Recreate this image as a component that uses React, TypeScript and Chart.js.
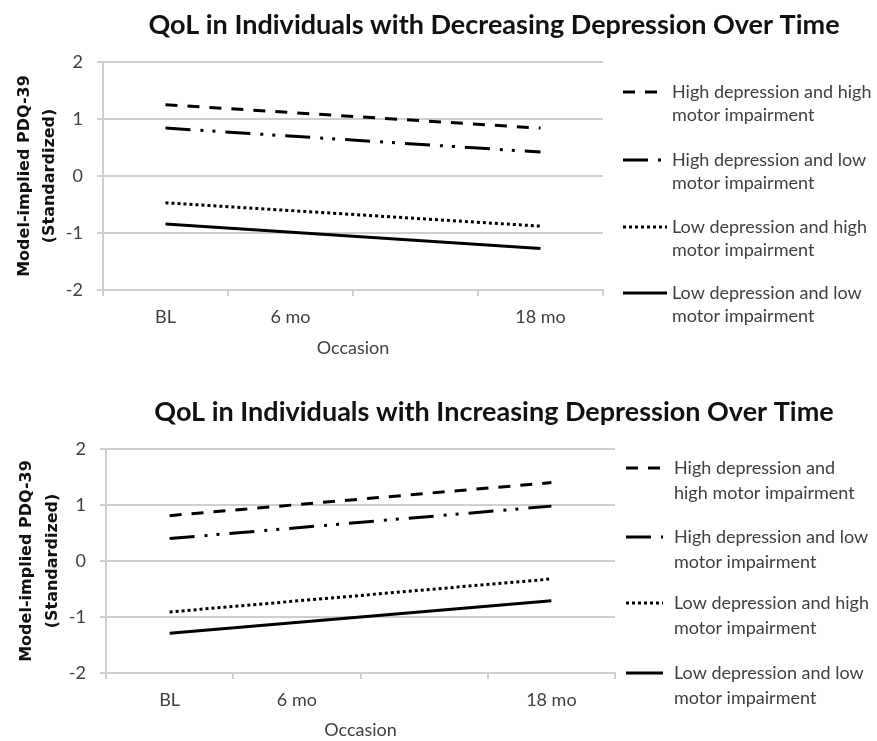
import React, { useEffect, useRef } from 'react';
import { Chart, registerables } from 'chart.js';

Chart.register(...registerables);

// ---------- data ----------
const OCCASIONS = ['BL', '6 mo', '', '18 mo'];

const TITLE_DECREASING = 'QoL in Individuals with Decreasing Depression Over Time';
const TITLE_INCREASING = 'QoL in Individuals with Increasing Depression Over Time';

const NAMES_DECREASING = [
  'High depression and high\nmotor impairment',
  'High depression and low\nmotor impairment',
  'Low depression and high\nmotor impairment',
  'Low depression and low\nmotor impairment',
];
const NAMES_INCREASING = [
  'High depression and\nhigh motor impairment',
  'High depression and low\nmotor impairment',
  'Low depression and high\nmotor impairment',
  'Low depression and low\nmotor impairment',
];

// Decreasing depression (values at BL and 18 mo; straight lines between)
const DEC_HIGHDEP_HIGHMOT = [1.25, null, null, 0.84];
const DEC_HIGHDEP_LOWMOT = [0.84, null, null, 0.42];
const DEC_LOWDEP_HIGHMOT = [-0.47, null, null, -0.88];
const DEC_LOWDEP_LOWMOT = [-0.84, null, null, -1.27];

// Increasing depression
const INC_HIGHDEP_HIGHMOT = [0.81, null, null, 1.4];
const INC_HIGHDEP_LOWMOT = [0.4, null, null, 0.98];
const INC_LOWDEP_HIGHMOT = [-0.91, null, null, -0.32];
const INC_LOWDEP_LOWMOT = [-1.29, null, null, -0.71];

const Y_MIN = -2;
const Y_MAX = 2;
const Y_STEP = 1;

const Y_TITLE = ['Model-implied PDQ-39', '(Standardized)'];
const X_TITLE = 'Occasion';

// ---------- styles ----------
const DASHES = [[12, 10], [25, 10, 3, 9, 3, 10], [3, 3], []];
const GRID = '#cfcfcf';
const TEXT = '#404040';
const SANS = 'Lato, "Open Sans", sans-serif';

const decorPlugin = {
  id: 'panelDecor',
  afterDraw(chart: any, _args: any, opts: any) {
    const ctx = chart.ctx;
    ctx.save();
    // title
    ctx.fillStyle = '#111';
    ctx.font = `bold ${opts.titleSize}px ${SANS}`;
    ctx.textAlign = 'center';
    ctx.textBaseline = 'middle';
    ctx.fillText(opts.title, opts.titleX, opts.titleY);
    // legend
    chart.data.datasets.forEach((ds: any, i: number) => {
      const y = opts.legendY[i];
      ctx.strokeStyle = ds.borderColor;
      ctx.lineWidth = ds.borderWidth;
      ctx.lineCap = 'butt';
      ctx.setLineDash(ds.borderDash || []);
      ctx.beginPath();
      ctx.moveTo(opts.lineX0, y);
      ctx.lineTo(opts.lineX1, y);
      ctx.stroke();
      ctx.setLineDash([]);
      ctx.fillStyle = TEXT;
      ctx.font = `${opts.legendSize}px ${SANS}`;
      ctx.textAlign = 'left';
      ctx.textBaseline = 'middle';
      String(ds.label).split('\n').forEach((line: string, j: number) => {
        ctx.fillText(line, opts.textX, y + j * opts.lineGap);
      });
    });
    ctx.restore();
  },
};

type PanelProps = {
  width: number;
  height: number;
  top: number;
  title: string;
  names: string[];
  series: (number | null)[][];
  layout: any;
};

function Panel({ width, height, top, title, names, series, layout }: PanelProps) {
  const ref = useRef<HTMLCanvasElement | null>(null);
  useEffect(() => {
    if (!ref.current) return;
    const chart = new Chart(ref.current, {
      type: 'line',
      data: {
        labels: OCCASIONS,
        datasets: series.map((vals, i) => ({
          label: names[i],
          data: vals,
          borderColor: '#000',
          borderWidth: 3,
          borderDash: DASHES[i],
          borderCapStyle: 'butt',
          pointRadius: 0,
          fill: false,
          tension: 0,
          spanGaps: true,
        })),
      },
      options: {
        responsive: false,
        animation: false,
        devicePixelRatio: 1,
        layout: {
          padding: { top: layout.areaTop, right: width - layout.areaRight, left: 0, bottom: 0 },
        },
        plugins: {
          legend: { display: false },
          title: { display: false },
          tooltip: { enabled: false },
          panelDecor: {
            title,
            titleX: layout.titleX,
            titleY: layout.titleY,
            titleSize: 27,
            legendY: layout.legendY,
            lineX0: layout.lineX0,
            lineX1: layout.lineX1,
            textX: layout.textX,
            lineGap: layout.lineGap,
            legendSize: 18,
          },
        } as any,
        scales: {
          x: {
            type: 'category',
            offset: true,
            afterFit: (s: any) => {
              s.height = height - layout.areaBottom;
            },
            grid: {
              offset: true,
              drawOnChartArea: false,
              drawTicks: true,
              tickLength: 6,
              color: GRID,
              lineWidth: 2,
            },
            border: { display: true, color: GRID, width: 2 },
            ticks: {
              color: TEXT,
              font: { family: SANS, size: 18 },
              padding: 10.2,
              maxRotation: 0,
              autoSkip: false,
            },
            title: {
              display: true,
              text: X_TITLE,
              color: TEXT,
              font: { family: SANS, size: 18, lineHeight: 1.2 },
              padding: { top: 0, bottom: layout.xTitlePadBottom },
            },
          },
          y: {
            min: Y_MIN,
            max: Y_MAX,
            afterFit: (s: any) => {
              s.width = layout.areaLeft;
            },
            grid: {
              drawTicks: true,
              tickLength: 6,
              color: GRID,
              lineWidth: 2,
            },
            border: { display: true, color: GRID, width: 2 },
            ticks: {
              stepSize: Y_STEP,
              color: TEXT,
              font: { family: SANS, size: 18 },
              padding: 14,
            },
            title: {
              display: true,
              text: Y_TITLE,
              color: '#111',
              font: { family: '"DejaVu Sans", Verdana, sans-serif', size: 16, weight: 'bold', lineHeight: layout.yTitleLH / 16 },
              padding: { top: layout.yTitlePadTop, bottom: 0 },
            },
          },
        },
      } as any,
      plugins: [decorPlugin],
    });
    return () => chart.destroy();
  }, []);
  return (
    <canvas
      ref={ref}
      width={width}
      height={height}
      style={{ position: 'absolute', left: 0, top, width, height, display: 'block' }}
    />
  );
}

const TOP_LAYOUT = {
  areaLeft: 103,
  areaRight: 603,
  areaTop: 62,
  areaBottom: 290,
  titleX: 494,
  titleY: 25,
  legendY: [92, 160, 227, 293],
  lineX0: 623,
  lineX1: 667,
  textX: 672,
  lineGap: 23,
  xTitlePadBottom: 11.2,
  yTitleLH: 25,
  yTitlePadTop: 12.5,
};

const BOTTOM_LAYOUT = {
  areaLeft: 106,
  areaRight: 615,
  areaTop: 79,
  areaBottom: 303,
  titleX: 494,
  titleY: 42,
  legendY: [98, 167, 233, 303],
  lineX0: 626,
  lineX1: 663,
  textX: 674,
  lineGap: 25,
  xTitlePadBottom: 0.2,
  yTitleLH: 26,
  yTitlePadTop: 14,
};

export default function App() {
  return (
    <div style={{ position: 'absolute', left: 0, top: 0, width: 877, height: 741, background: '#fff', overflow: 'hidden' }}>
      <Panel
        width={877}
        height={370}
        top={0}
        title={TITLE_DECREASING}
        names={NAMES_DECREASING}
        series={[DEC_HIGHDEP_HIGHMOT, DEC_HIGHDEP_LOWMOT, DEC_LOWDEP_HIGHMOT, DEC_LOWDEP_LOWMOT]}
        layout={TOP_LAYOUT}
      />
      <Panel
        width={877}
        height={371}
        top={370}
        title={TITLE_INCREASING}
        names={NAMES_INCREASING}
        series={[INC_HIGHDEP_HIGHMOT, INC_HIGHDEP_LOWMOT, INC_LOWDEP_HIGHMOT, INC_LOWDEP_LOWMOT]}
        layout={BOTTOM_LAYOUT}
      />
    </div>
  );
}
